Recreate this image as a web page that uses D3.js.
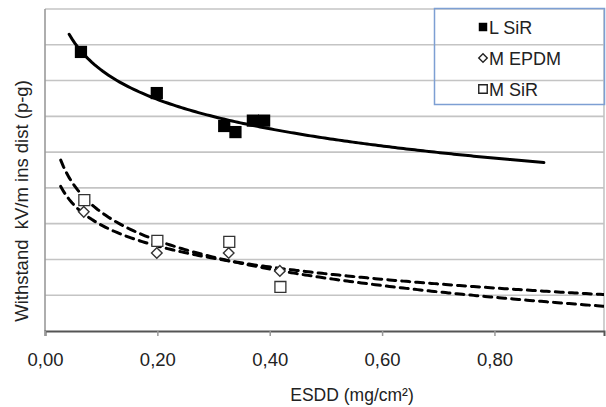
<!DOCTYPE html>
<html lang="en">
<head>
<meta charset="UTF-8">
<style>
  body { margin: 0; background: #fff; }
  text { font-family: "Liberation Sans", Arial, sans-serif; fill: #222; }
</style>
</head>
<body>
<div id="chart"></div>
<script src="https://cdn.jsdelivr.net/npm/d3@7/dist/d3.min.js"></script>
<script>
// measured points (ESDD mg/cm2, withstand)
var lsirX = [0.064, 0.199, 0.319, 0.339, 0.370, 0.390];
var lsirY = [78.0, 66.5, 57.3, 55.6, 58.8, 58.8];
var mepdmX = [0.069, 0.199, 0.327, 0.418];
var mepdmY = [33.3, 21.8, 21.8, 16.8];
var msirX = [0.070, 0.200, 0.328, 0.419];
var msirY = [36.6, 25.2, 24.9, 12.3];

// x-extent of each log trendline
var lsirTrend = [0.043, 0.89];
var mepdmTrend = [0.028, 1.0];
var msirTrend = [0.028, 1.0];

var xTicks = [0, 0.2, 0.4, 0.6, 0.8];
var seriesNames = ["L SiR", "M EPDM", "M SiR"];

var W = 606, H = 407;
var pL = 45, pR = 604, pT = 9, pB = 331;

var svg = d3.select("#chart").append("svg")
    .attr("width", W).attr("height", H);

var x = d3.scaleLinear().domain([0, 0.995]).range([pL, pR]);
var y = d3.scaleLinear().domain([0, 90]).range([pB, pT]);

// gridlines
svg.append("g").selectAll("line")
    .data(y.ticks(9).filter(function (d) { return d > 0; }))
    .enter().append("line")
    .attr("x1", pL).attr("x2", pR)
    .attr("y1", function (d) { return y(d); })
    .attr("y2", function (d) { return y(d); })
    .attr("stroke", "#c4c4c4").attr("stroke-width", 1.6);

// right border + left axis
svg.append("line").attr("x1", pR).attr("x2", pR).attr("y1", pT).attr("y2", pB)
    .attr("stroke", "#c4c4c4").attr("stroke-width", 1.6);
svg.append("line").attr("x1", pL).attr("x2", pL).attr("y1", pT).attr("y2", pB)
    .attr("stroke", "#9a9a9a").attr("stroke-width", 1.6);

// x axis
var xAxis = svg.append("g")
    .attr("transform", "translate(0," + pB + ")")
    .call(d3.axisBottom(x).tickValues(xTicks).tickSize(5)
        .tickFormat(function (d) { return d3.format(".2f")(d).replace(".", ","); }));
xAxis.select(".domain").attr("stroke", "#555").attr("stroke-width", 2);
xAxis.selectAll(".tick line").attr("stroke", "#999").attr("stroke-width", 1.5);
xAxis.selectAll(".tick text")
    .attr("y", 22)
    .style("font-size", "18.5px")
    .style("font-family", "Liberation Sans, Arial, sans-serif")
    .attr("fill", "#333");

// axis titles
svg.append("text")
    .attr("x", 352).attr("y", 401)
    .attr("text-anchor", "middle")
    .style("font-size", "17.5px")
    .text("ESDD (mg/cm²)");

svg.append("text")
    .attr("transform", "translate(28,201) rotate(-90)")
    .attr("text-anchor", "middle")
    .style("font-size", "18.5px")
    .style("white-space", "pre")
    .text("Withstand  kV/m ins dist (p-g)");

// log trendline y = a + b ln x, least squares from the points
function logFit(xs, ys) {
    var lx = xs.map(Math.log);
    var mx = d3.mean(lx), my = d3.mean(ys);
    var sxy = d3.sum(lx, function (d, i) { return (d - mx) * (ys[i] - my); });
    var sxx = d3.sum(lx, function (d) { return (d - mx) * (d - mx); });
    var b = sxy / sxx;
    return { a: my - b * mx, b: b };
}

svg.append("clipPath").attr("id", "plot")
    .append("rect").attr("x", pL).attr("y", pT)
    .attr("width", pR - pL).attr("height", pB - pT);

var line = d3.line()
    .x(function (d) { return x(d[0]); })
    .y(function (d) { return y(d[1]); });

function trend(xs, ys, ext, dash) {
    var f = logFit(xs, ys);
    var pts = d3.range(ext[0], ext[1] + 0.001, 0.005).map(function (v) {
        return [v, f.a + f.b * Math.log(v)];
    });
    svg.append("path")
        .datum(pts)
        .attr("clip-path", "url(#plot)")
        .attr("d", line)
        .attr("fill", "none")
        .attr("stroke", "#000")
        .attr("stroke-width", 3)
        .attr("stroke-linecap", "round")
        .attr("stroke-dasharray", dash);
}

trend(lsirX, lsirY, lsirTrend, null);
trend(mepdmX, mepdmY, mepdmTrend, "8,6");
trend(msirX, msirY, msirTrend, "8,6");

// markers (diamond = square turned 45deg, like excel)
var sq = d3.symbol().type(d3.symbolSquare);

svg.append("g").selectAll("path")
    .data(d3.zip(msirX, msirY)).enter().append("path")
    .attr("transform", function (d) { return "translate(" + x(d[0]) + "," + y(d[1]) + ")"; })
    .attr("d", sq.size(120))
    .attr("fill", "#fff").attr("stroke", "#333").attr("stroke-width", 1.3);

svg.append("g").selectAll("path")
    .data(d3.zip(mepdmX, mepdmY)).enter().append("path")
    .attr("transform", function (d) { return "translate(" + x(d[0]) + "," + y(d[1]) + ") rotate(45)"; })
    .attr("d", sq.size(56))
    .attr("fill", "#fff").attr("stroke", "#333").attr("stroke-width", 1.4);

svg.append("g").selectAll("path")
    .data(d3.zip(lsirX, lsirY)).enter().append("path")
    .attr("transform", function (d) { return "translate(" + x(d[0]) + "," + y(d[1]) + ")"; })
    .attr("d", sq.size(150))
    .attr("fill", "#000");

// legend
var lg = svg.append("g");
lg.append("rect")
    .attr("x", 434.5).attr("y", 8.5).attr("width", 170).attr("height", 96)
    .attr("fill", "none").attr("stroke", "#7d9fd3").attr("stroke-width", 1.5);

var legendRows = lg.selectAll("g.row")
    .data(seriesNames).enter().append("g")
    .attr("class", "row")
    .attr("transform", function (d, i) { return "translate(483," + (27 + i * 31) + ")"; });

legendRows.append("path")
    .attr("transform", function (d, i) { return i === 1 ? "rotate(45)" : null; })
    .attr("d", function (d, i) { return i === 1 ? sq.size(36)() : sq.size(72)(); })
    .attr("fill", function (d, i) { return i === 0 ? "#000" : "#fff"; })
    .attr("stroke", "#222")
    .attr("stroke-width", function (d, i) { return i === 0 ? 0 : 1.4; });

legendRows.append("text")
    .attr("x", 6).attr("y", 6.5)
    .style("font-size", "18px")
    .text(function (d) { return d; });
</script>
</body>
</html>
